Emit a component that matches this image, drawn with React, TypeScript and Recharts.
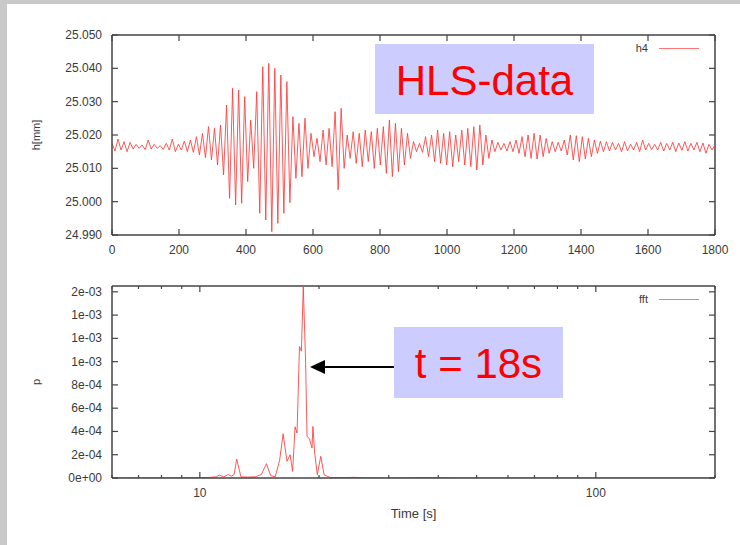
import { LineChart, Line, XAxis, YAxis, ReferenceLine, Legend } from 'recharts';

// h4 sensor trace, one sample every 9 s (peaks / troughs of the ~18 s wave)
const H4_STEP = 9;
const H4 = [
  25.0175, 25.0152, 25.0188, 25.0155, 25.0180, 25.0150, 25.0178, 25.0158, 25.0172, 25.0160,
  25.0170, 25.0156, 25.0185, 25.0158, 25.0172, 25.0160, 25.0168, 25.0157, 25.0175, 25.0155,
  25.0188, 25.0150, 25.0172, 25.0155, 25.0182, 25.0150, 25.0185, 25.0148, 25.0195, 25.0140,
  25.0205, 25.0132, 25.0225, 25.0125, 25.0220, 25.0110, 25.0230, 25.0080, 25.0290, 25.0010,
  25.0340, 24.9990, 25.0335, 24.9995, 25.0315, 25.0060, 25.0245, 25.0100, 25.0330, 24.9965,
  25.0405, 24.9945, 25.0415, 24.9910, 25.0400, 24.9935, 25.0380, 24.9965, 25.0360, 24.9997,
  25.0255, 25.0070, 25.0235, 25.0075, 25.0250, 25.0100, 25.0205, 25.0135, 25.0190, 25.0120,
  25.0215, 25.0110, 25.0220, 25.0105, 25.0270, 25.0036, 25.0280, 25.0100, 25.0200, 25.0130,
  25.0210, 25.0115, 25.0205, 25.0105, 25.0215, 25.0120, 25.0210, 25.0100, 25.0220, 25.0110,
  25.0225, 25.0085, 25.0245, 25.0075, 25.0235, 25.0090, 25.0220, 25.0110, 25.0205, 25.0130,
  25.0180, 25.0150, 25.0175, 25.0148, 25.0195, 25.0135, 25.0200, 25.0120, 25.0215, 25.0115,
  25.0205, 25.0110, 25.0210, 25.0105, 25.0200, 25.0120, 25.0215, 25.0110, 25.0220, 25.0105,
  25.0225, 25.0095, 25.0230, 25.0110, 25.0200, 25.0130, 25.0185, 25.0150, 25.0178, 25.0155,
  25.0175, 25.0152, 25.0180, 25.0150, 25.0185, 25.0145, 25.0195, 25.0135, 25.0200, 25.0130,
  25.0205, 25.0128, 25.0200, 25.0135, 25.0190, 25.0145, 25.0180, 25.0150, 25.0178, 25.0152,
  25.0185, 25.0140, 25.0200, 25.0125, 25.0198, 25.0120, 25.0195, 25.0128, 25.0190, 25.0135,
  25.0185, 25.0145, 25.0182, 25.0150, 25.0180, 25.0152, 25.0178, 25.0155, 25.0175, 25.0150,
  25.0180, 25.0152, 25.0172, 25.0155, 25.0178, 25.0150, 25.0185, 25.0155, 25.0175, 25.0156,
  25.0172, 25.0155, 25.0178, 25.0152, 25.0175, 25.0155, 25.0178, 25.0150, 25.0176, 25.0154,
  25.0180, 25.0152, 25.0175, 25.0155, 25.0178, 25.0150, 25.0176, 25.0145, 25.0172, 25.0155,
  25.0170,
];
const H4_X_TICKS = [0, 200, 400, 600, 800, 1000, 1200, 1400, 1600, 1800];
const H4_Y_TICKS = [24.99, 25.0, 25.01, 25.02, 25.03, 25.04, 25.05];

// power spectrum vs period (log axis)
const FFT_T = [
  6, 9, 10.5, 11.0, 11.2, 11.5, 11.8, 12.0, 12.2, 12.39, 12.7, 13.2, 13.8, 14.3, 14.73, 15.1,
  15.5, 15.9, 16.23, 16.6, 16.9, 17.15, 17.4, 17.6, 17.85, 18.05, 18.25, 18.5, 18.65, 18.9,
  19.2, 19.3, 19.5, 19.8, 20.2, 20.6, 21.3, 23, 24.5, 26, 30, 38, 45, 200,
];
const FFT_P = [
  0, 0.000002, 0.000004, 0.00001, 0.000025, 0.00001, 0.00003, 0.000015, 0.00003, 0.000163,
  0.00001, 0.000008, 0.00001, 0.00003, 0.000123, 0.00002, 0.00001, 0.00015, 0.00038, 0.000143,
  0.0002, 0.000057, 0.00044, 0.000386, 0.00113, 0.00109, 0.00165, 0.00099, 0.000357, 0.00034,
  0.000257, 0.000443, 0.000214, 0.000028, 0.000186, 0.000028, 0.000005, 0.000003, 0.000006,
  0.000002, 0, 0.000004, 0, 0,
];
const FFT_X_TICKS = [6, 7, 8, 9, 10, 20, 30, 40, 50, 60, 70, 80, 90, 100, 200];
const FFT_X_MAJOR = [10, 100];
const FFT_Y_TICKS = [0, 0.0002, 0.0004, 0.0006, 0.0008, 0.001, 0.0012, 0.0014, 0.0016];
const FFT_Y_LABELS = ['0e+00', '2e-04', '4e-04', '6e-04', '8e-04', '1e-03', '1e-03', '1e-03', '2e-03'];

const W = 740;
const AXIS = '#444';
const TEXT = '#3a3a3a';
const RED = '#ff3b3b';
const FONT = '"Liberation Sans", Arial, sans-serif';

const topMargin = { top: 35, right: 25, left: 62, bottom: 0 };
const botMargin = { top: 16, right: 25, left: 62, bottom: 0 };

const makeXTick = (plotTop: number, major: number[] | null, showLabel: (v: number) => boolean) => (props: any) => {
  const { x, y, payload } = props;
  const v = payload.value;
  const len = !major || major.includes(v) ? 6 : 3;
  return (
    <g>
      <line x1={x} y1={y} x2={x} y2={y - len} stroke={AXIS} strokeWidth={1.2} />
      <line x1={x} y1={plotTop} x2={x} y2={plotTop + len} stroke={AXIS} strokeWidth={1.2} />
      {showLabel(v) && (
        <text x={x} y={y + 19} textAnchor="middle" fill={TEXT} fontSize={12} fontFamily={FONT}>
          {v}
        </text>
      )}
    </g>
  );
};

const makeYTick = (plotRight: number, fmt: (v: number, i: number) => string) => (props: any) => {
  const { x, y, payload, index } = props;
  return (
    <g>
      <line x1={x} y1={y} x2={x + 6} y2={y} stroke={AXIS} strokeWidth={1.2} />
      <line x1={plotRight} y1={y} x2={plotRight - 6} y2={y} stroke={AXIS} strokeWidth={1.2} />
      <text x={x - 10} y={y + 4} textAnchor="end" fill={TEXT} fontSize={12} fontFamily={FONT}>
        {fmt(payload.value, index)}
      </text>
    </g>
  );
};

const yTitle = (text: string) => (props: any) => {
  const vb = props.viewBox;
  const cx = vb.x - 26;
  const cy = vb.y + vb.height / 2;
  return (
    <text x={cx} y={cy} transform={`rotate(-90 ${cx} ${cy})`} textAnchor="middle" dominantBaseline="central"
      fill={TEXT} fontSize={11} fontFamily={FONT}>
      {text}
    </text>
  );
};

const xTitle = (text: string) => (props: any) => {
  const vb = props.viewBox;
  return (
    <text x={vb.x + vb.width / 2} y={vb.y + 40} textAnchor="middle" fill={TEXT} fontSize={13} fontFamily={FONT}>
      {text}
    </text>
  );
};

const LegendKey = ({ name }: { name: string }) => (
  <div style={{ display: 'flex', alignItems: 'center', justifyContent: 'flex-end', width: 100 }}>
    <span style={{ fontSize: 11, fontFamily: FONT, color: TEXT }}>{name}</span>
    <span style={{ marginLeft: 11, width: 40, borderTop: `1.5px solid ${RED}`, opacity: 0.7 }} />
  </div>
);

export default function App() {
  const h4Data = H4.map((v, i) => ({ t: i * H4_STEP, h: v }));
  const fftData = FFT_T.map((t, i) => ({ t, p: FFT_P[i] }));

  return (
    <div style={{ position: 'absolute', left: 0, top: 0, width: W, height: 545, background: '#c9c9c9', overflow: 'hidden' }}>
      <div style={{ position: 'absolute', left: 7, top: 4, right: 0, bottom: 0, background: '#fff' }} />

      <div style={{ position: 'absolute', left: 0, top: 0 }}>
        <LineChart width={W} height={270} data={h4Data} margin={topMargin}>
          <XAxis dataKey="t" type="number" domain={[0, 1800]} ticks={H4_X_TICKS} interval={0}
            allowDataOverflow tickSize={0} tickMargin={0} height={35}
            axisLine={{ stroke: AXIS, strokeWidth: 1.5 }} tickLine={false}
            tick={makeXTick(topMargin.top, null, () => true)} />
          <YAxis type="number" domain={[24.99, 25.05]} ticks={H4_Y_TICKS} interval={0}
            allowDataOverflow tickSize={0} tickMargin={0} width={50}
            axisLine={{ stroke: AXIS, strokeWidth: 1.5 }} tickLine={false}
            tick={makeYTick(W - topMargin.right, (v) => v.toFixed(3))}
            label={{ content: yTitle('h[mm]') }} />
          <ReferenceLine y={25.05} stroke={AXIS} strokeWidth={1.5} />
          <ReferenceLine x={1800} stroke={AXIS} strokeWidth={1.5} />
          <Legend verticalAlign="middle" align="center" wrapperStyle={{ top: 42, left: 599, width: 100 }}
            content={() => <LegendKey name="h4" />} />
          <Line type="linear" dataKey="h" name="h4" stroke={RED} strokeOpacity={0.85} strokeWidth={1}
            dot={false} isAnimationActive={false} />
        </LineChart>
      </div>

      <div style={{ position: 'absolute', left: 0, top: 270 }}>
        <LineChart width={W} height={275} data={fftData} margin={botMargin}>
          <XAxis dataKey="t" type="number" scale="log" domain={[6, 200]} ticks={FFT_X_TICKS} interval={0}
            allowDataOverflow tickSize={0} tickMargin={0} height={67}
            axisLine={{ stroke: AXIS, strokeWidth: 1.5 }} tickLine={false}
            tick={makeXTick(botMargin.top, FFT_X_MAJOR, (v) => FFT_X_MAJOR.includes(v))}
            label={{ content: xTitle('Time [s]') }} />
          <YAxis type="number" domain={[0, 0.00165]} ticks={FFT_Y_TICKS} interval={0}
            allowDataOverflow tickSize={0} tickMargin={0} width={50}
            axisLine={{ stroke: AXIS, strokeWidth: 1.5 }} tickLine={false}
            tick={makeYTick(W - botMargin.right, (v, i) => FFT_Y_LABELS[i])}
            label={{ content: yTitle('p') }} />
          <ReferenceLine y={0.00165} stroke={AXIS} strokeWidth={1.5} />
          <ReferenceLine x={200} stroke={AXIS} strokeWidth={1.5} />
          <Legend verticalAlign="middle" align="center" wrapperStyle={{ top: 23, left: 599, width: 100 }}
            content={() => <LegendKey name="fft" />} />
          <Line type="linear" dataKey="p" name="fft" stroke={RED} strokeOpacity={0.85} strokeWidth={1}
            dot={false} isAnimationActive={false} />
        </LineChart>
      </div>

      {/* slide annotations */}
      <svg width={W} height={545} style={{ position: 'absolute', left: 0, top: 0, pointerEvents: 'none' }}>
        <rect x={375} y={44} width={219} height={70} fill="#ccccff" />
        <text x={484.5} y={95} textAnchor="middle" fill="#ff0000" fontSize={42} fontFamily={FONT}>HLS-data</text>
        <rect x={394} y={327} width={169} height={71} fill="#ccccff" />
        <text x={478.5} y={378} textAnchor="middle" fill="#ff0000" fontSize={42} fontFamily={FONT}>t = 18s</text>
        <line x1={394} y1={367} x2={323} y2={367} stroke="#000" strokeWidth={2} />
        <polygon points="310,367 325,360 325,374" fill="#000" />
      </svg>
    </div>
  );
}
